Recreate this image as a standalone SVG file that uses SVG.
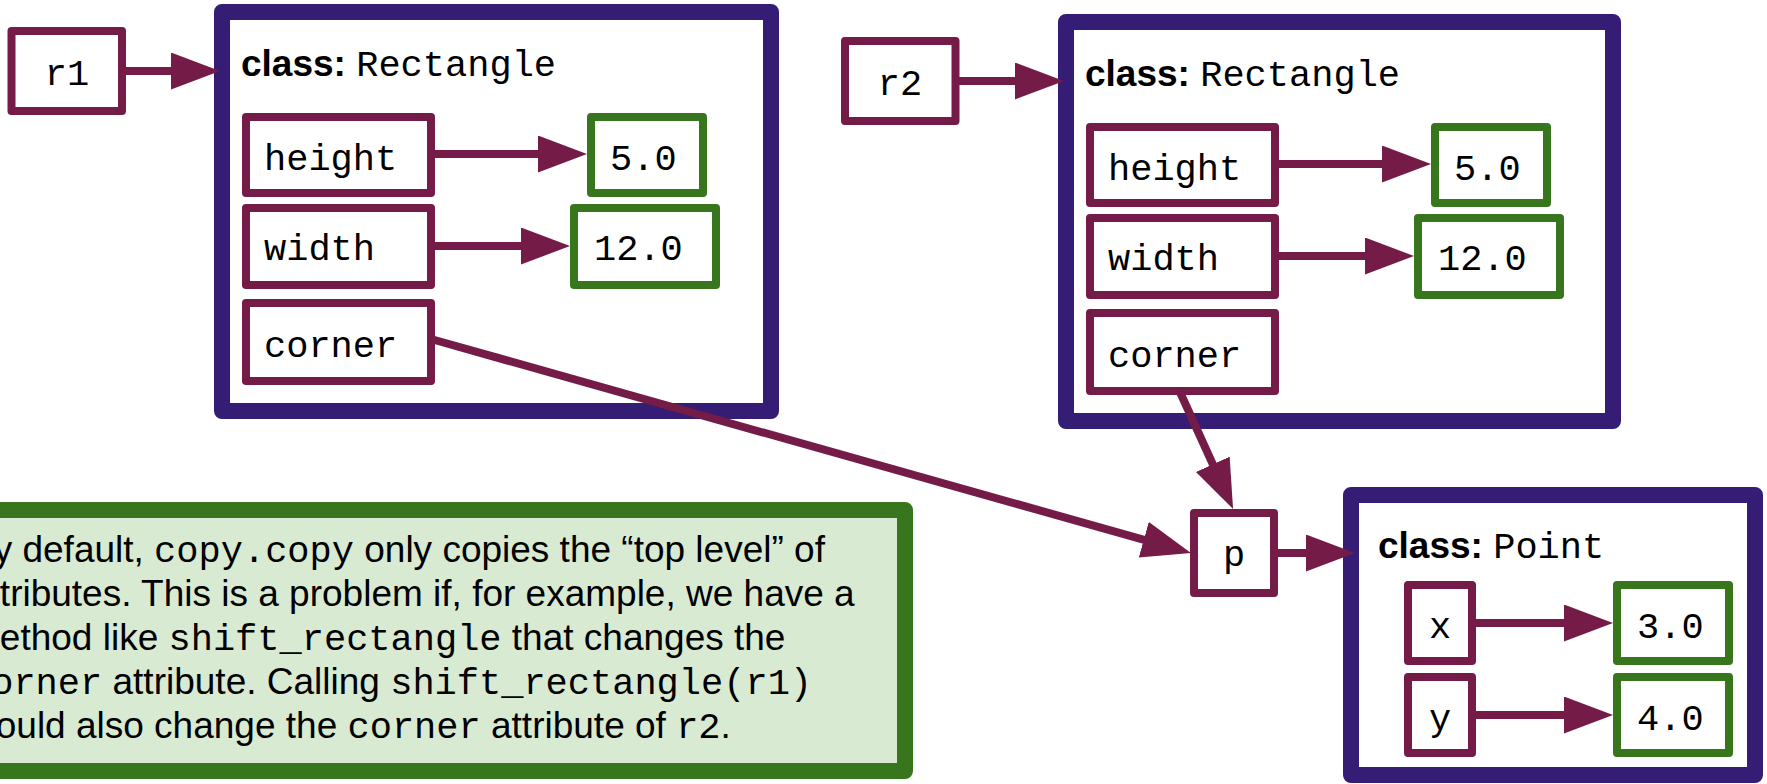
<svg xmlns="http://www.w3.org/2000/svg" width="1767" height="784" viewBox="0 0 1767 784">
<style>
.obj{fill:#fff;stroke:#351c75;stroke-width:16;stroke-linejoin:round}
.var{fill:#fff;stroke:#741b47;stroke-width:8;stroke-linejoin:round}
.val{fill:#fff;stroke:#38761d;stroke-width:8;stroke-linejoin:round}
.note{fill:#d9ead3;stroke:#38761d;stroke-width:16;stroke-linejoin:round}
.conn{stroke:#741b47;stroke-width:8;fill:none;marker-end:url(#ah)}
.mono{font-family:"Liberation Mono","DejaVu Sans Mono",monospace;font-size:37px;fill:#000}
.sans{font-family:"Liberation Sans",Arial,sans-serif;font-size:37px;fill:#000}
.b{font-weight:bold}
</style>
<defs>
<marker id="ah" markerUnits="userSpaceOnUse" markerWidth="50" markerHeight="38" refX="29" refY="18.5" orient="auto">
<path d="M0,0 L49,18.5 L0,37 z" fill="#741b47"/>
</marker>
</defs>

<g id="rect1">
<rect class="obj" x="222" y="12" width="549" height="399"/>
<text class="sans" x="241" y="76"><tspan class="b">class:</tspan> <tspan class="mono">Rectangle</tspan></text>
</g>
<g id="r1"><rect class="var" x="11.5" y="31" width="110.5" height="80"/><text class="mono" x="67" y="85" text-anchor="middle">r1</text></g>
<g id="height1"><rect class="var" x="246" y="117" width="185" height="76"/><text class="mono" x="264" y="170">height</text></g>
<g id="h1val"><rect class="val" x="591" y="117" width="112" height="76"/><text class="mono" x="610" y="170">5.0</text></g>
<g id="width1"><rect class="var" x="246" y="208" width="185" height="77"/><text class="mono" x="264" y="260">width</text></g>
<g id="w1val"><rect class="val" x="574" y="208" width="142" height="77"/><text class="mono" x="594" y="260">12.0</text></g>
<g id="corner1"><rect class="var" x="246" y="303" width="185" height="78"/><text class="mono" x="264" y="357">corner</text></g>

<g id="rect2">
<rect class="obj" x="1066" y="22" width="547" height="399"/>
<text class="sans" x="1085" y="86"><tspan class="b">class:</tspan> <tspan class="mono">Rectangle</tspan></text>
</g>
<g id="r2"><rect class="var" x="845" y="41" width="110.5" height="80"/><text class="mono" x="900" y="95" text-anchor="middle">r2</text></g>
<g id="height2"><rect class="var" x="1090" y="127" width="185" height="76"/><text class="mono" x="1108" y="180">height</text></g>
<g id="h2val"><rect class="val" x="1435" y="127" width="112" height="76"/><text class="mono" x="1454" y="180">5.0</text></g>
<g id="width2"><rect class="var" x="1090" y="218" width="185" height="77"/><text class="mono" x="1108" y="270">width</text></g>
<g id="w2val"><rect class="val" x="1418" y="218" width="142" height="77"/><text class="mono" x="1438" y="270">12.0</text></g>
<g id="corner2"><rect class="var" x="1090" y="313" width="185" height="78"/><text class="mono" x="1108" y="367">corner</text></g>

<g id="p"><rect class="var" x="1194" y="513" width="80" height="80"/><text class="mono" x="1234" y="566" text-anchor="middle">p</text></g>

<g id="point">
<rect class="obj" x="1351" y="495" width="404" height="280"/>
<text class="sans" x="1378" y="558"><tspan class="b">class:</tspan> <tspan class="mono">Point</tspan></text>
</g>
<g id="x"><rect class="var" x="1408" y="585" width="64" height="76"/><text class="mono" x="1440" y="638" text-anchor="middle">x</text></g>
<g id="xval"><rect class="val" x="1617" y="585" width="112" height="76"/><text class="mono" x="1637" y="638">3.0</text></g>
<g id="y"><rect class="var" x="1408" y="677" width="64" height="76"/><text class="mono" x="1440" y="730" text-anchor="middle">y</text></g>
<g id="yval"><rect class="val" x="1617" y="677" width="112" height="76"/><text class="mono" x="1637" y="730">4.0</text></g>

<g id="note">
<rect class="note" x="-20" y="510" width="925" height="261"/>
<text class="sans" x="-31" y="562">By default, <tspan class="mono">copy.copy</tspan> only copies the “top level” of</text>
<text class="sans" x="-31" y="606">attributes. This is a problem if, for example, we have a</text>
<text class="sans" x="-31" y="650">method like <tspan class="mono">shift_rectangle</tspan> that changes the</text>
<text class="sans" x="-31" y="694"><tspan class="mono">corner</tspan> attribute. Calling <tspan class="mono">shift_rectangle(r1)</tspan></text>
<text class="sans" x="-31" y="738">would also change the <tspan class="mono">corner</tspan> attribute of <tspan class="mono">r2</tspan>.</text>
</g>

<g id="connectors">
<line class="conn" x1="122" y1="71" x2="200" y2="71"/>
<line class="conn" x1="431" y1="154" x2="567" y2="154"/>
<line class="conn" x1="431" y1="246" x2="550" y2="246"/>
<line class="conn" x1="956" y1="81" x2="1044" y2="81"/>
<line class="conn" x1="1275" y1="164" x2="1411" y2="164"/>
<line class="conn" x1="1275" y1="256" x2="1394" y2="256"/>
<line class="conn" x1="431" y1="339" x2="1171.7" y2="547.6"/>
<line class="conn" x1="1179.5" y1="391" x2="1224.8" y2="490.7"/>
<line class="conn" x1="1274" y1="553" x2="1335" y2="553"/>
<line class="conn" x1="1472" y1="623" x2="1593" y2="623"/>
<line class="conn" x1="1472" y1="715" x2="1593" y2="715"/>
</g>
</svg>
